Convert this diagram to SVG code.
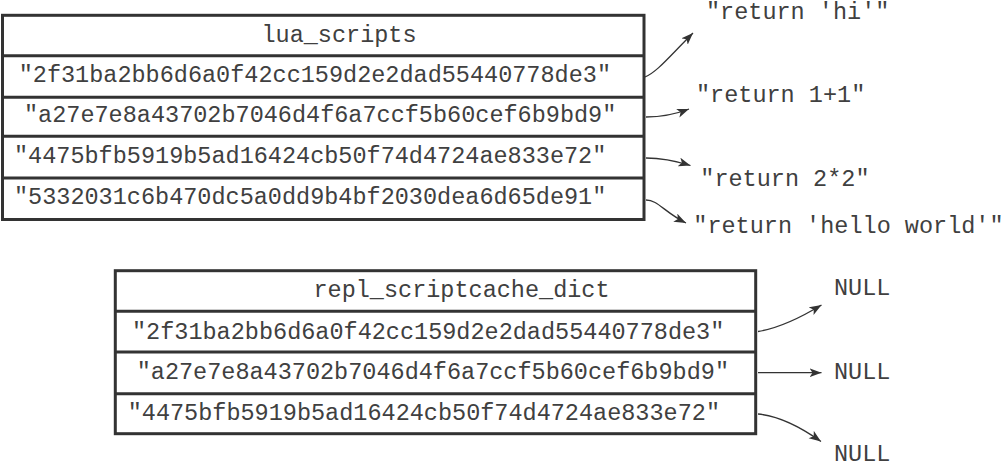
<svg xmlns="http://www.w3.org/2000/svg" width="1004" height="466" viewBox="0 0 1004 466">
<style>
.box{fill:#fff;stroke:#333;stroke-width:3}
.div{stroke:#333;stroke-width:3}
.t{font-family:"Liberation Mono","Courier New",monospace;font-size:23.5px;fill:#404040}
.m{text-anchor:middle}
.c{fill:none;stroke:#333;stroke-width:1.3}
</style>
<defs>
<marker id="ah" markerUnits="userSpaceOnUse" markerWidth="13" markerHeight="10" refX="12" refY="4.5" orient="auto">
<path d="M0,0 L12,4.5 L0,9 L3,4.5 Z" fill="#333"/>
</marker>
</defs>
<rect width="1004" height="466" fill="#fff"/>
<g id="lua_scripts">
<rect class="box" x="2.5" y="15.3" width="641.5" height="204.2"/>
<line class="div" x1="2.5" y1="55.7" x2="644" y2="55.7"/>
<line class="div" x1="2.5" y1="97.3" x2="644" y2="97.3"/>
<line class="div" x1="2.5" y1="136.2" x2="644" y2="136.2"/>
<line class="div" x1="2.5" y1="178" x2="644" y2="178"/>
<text class="t m" x="339" y="42">lua_scripts</text>
<text class="t" x="18.7" y="82">"2f31ba2bb6d6a0f42cc159d2e2dad55440778de3"</text>
<text class="t" x="24" y="122">"a27e7e8a43702b7046d4f6a7ccf5b60cef6b9bd9"</text>
<text class="t" x="14" y="163">"4475bfb5919b5ad16424cb50f74d4724ae833e72"</text>
<text class="t" x="14" y="204">"5332031c6b470dc5a0dd9b4bf2030dea6d65de91"</text>
</g>
<g id="repl_scriptcache_dict">
<rect class="box" x="115.3" y="270.7" width="640.4" height="163"/>
<line class="div" x1="115.3" y1="311.3" x2="755.7" y2="311.3"/>
<line class="div" x1="115.3" y1="352" x2="755.7" y2="352"/>
<line class="div" x1="115.3" y1="393.7" x2="755.7" y2="393.7"/>
<text class="t m" x="461.5" y="297">repl_scriptcache_dict</text>
<text class="t" x="132" y="338.5">"2f31ba2bb6d6a0f42cc159d2e2dad55440778de3"</text>
<text class="t" x="136.7" y="379">"a27e7e8a43702b7046d4f6a7ccf5b60cef6b9bd9"</text>
<text class="t" x="127.7" y="420">"4475bfb5919b5ad16424cb50f74d4724ae833e72"</text>
</g>
<g id="val_hi"><text class="t" x="706" y="19">"return 'hi'"</text></g>
<g id="val_1plus1"><text class="t" x="696" y="101.7">"return 1+1"</text></g>
<g id="val_2times2"><text class="t" x="700.3" y="186">"return 2*2"</text></g>
<g id="val_hello"><text class="t" x="693.3" y="233.3">"return 'hello world'"</text></g>
<g id="null1"><text class="t" x="834" y="295">NULL</text></g>
<g id="null2"><text class="t" x="834" y="378.5">NULL</text></g>
<g id="null3"><text class="t" x="834" y="461">NULL</text></g>
<g id="connectors">
<path class="c" d="M645,77 C657,72 668,58 693,33" marker-end="url(#ah)"/>
<path class="c" d="M646,117 C662,117 676,114 689,109" marker-end="url(#ah)"/>
<path class="c" d="M646,158 C662,158 676,161 690.5,165.5" marker-end="url(#ah)"/>
<path class="c" d="M646,200 C658,200 664,212 686,223" marker-end="url(#ah)"/>
<path class="c" d="M758,331.5 C780,328 800,318 821.5,305" marker-end="url(#ah)"/>
<path class="c" d="M758,372.7 L821.5,372.7" marker-end="url(#ah)"/>
<path class="c" d="M758,414 C780,416 802,428 821,441.5" marker-end="url(#ah)"/>
</g>
</svg>
